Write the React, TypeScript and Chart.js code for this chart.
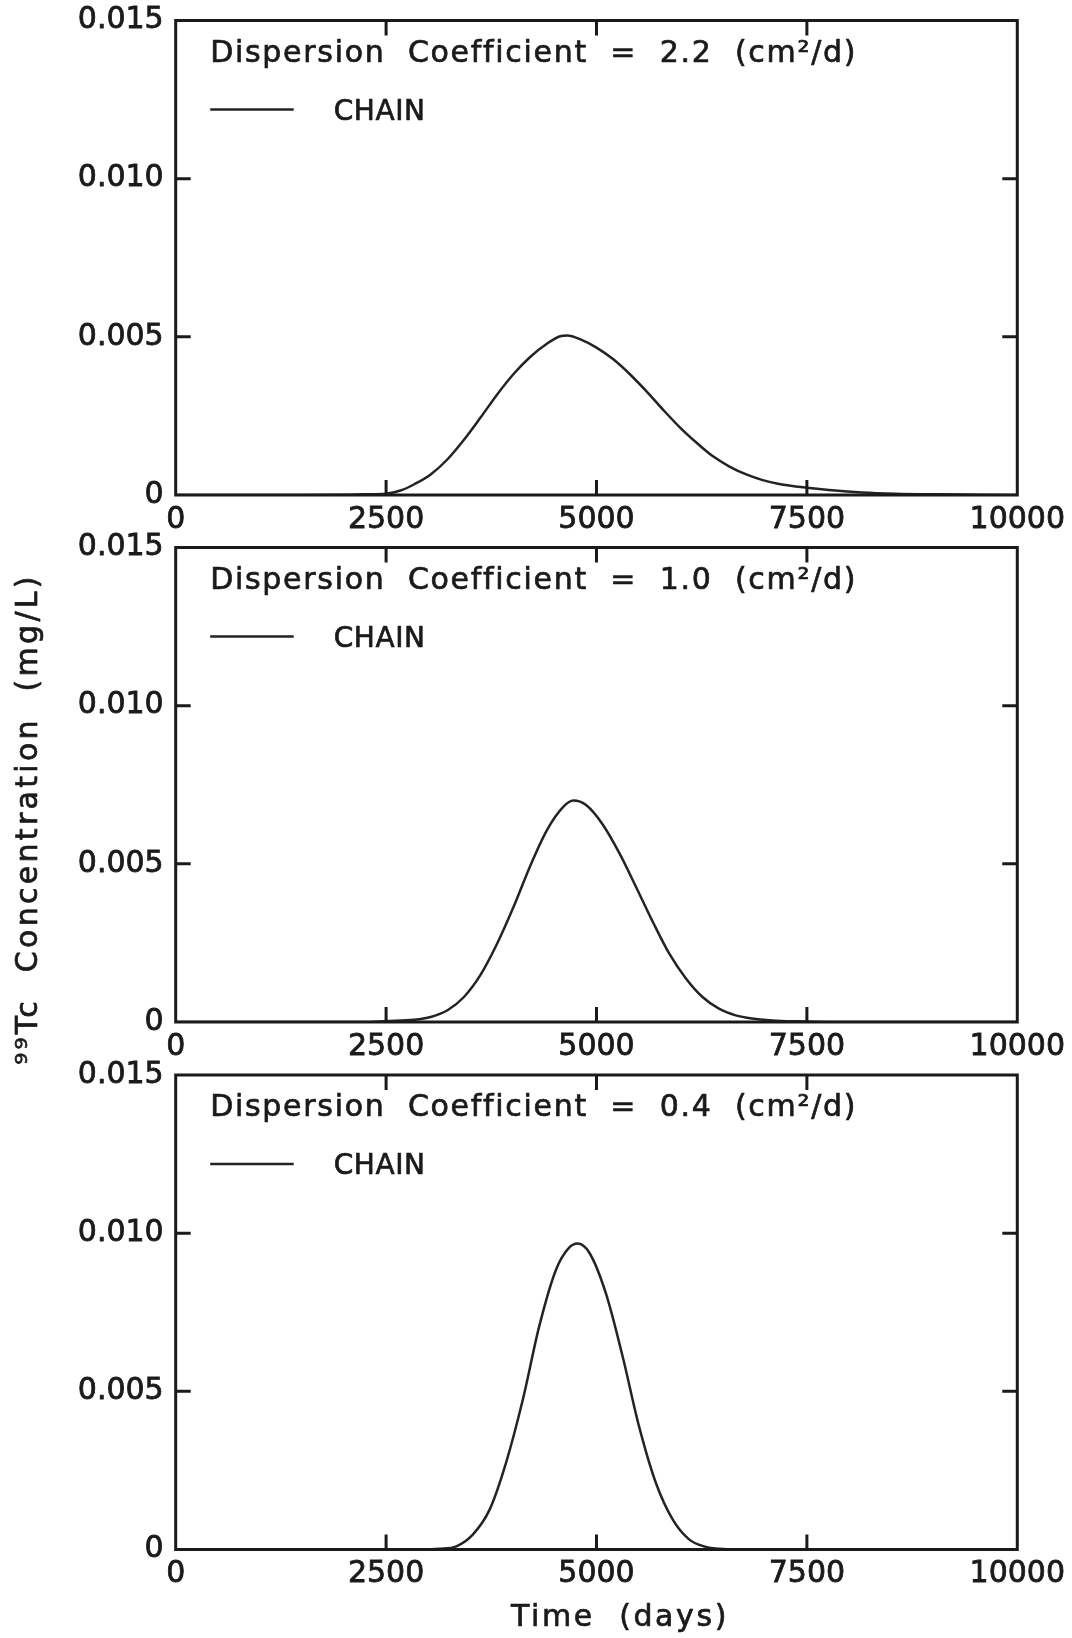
import React, { useEffect, useRef } from 'react';
import { Chart, registerables } from 'chart.js';

Chart.register(...registerables);

// ---------- data ----------
const xTicks = [0, 2500, 5000, 7500, 10000];
const yTicks = [0, 0.005, 0.01, 0.015];
const yTickLabels = ['0', '0.005', '0.010', '0.015'];
const xTickLabels = ['0', '2500', '5000', '7500', '10000'];
const dispersionValues = ['2.2', '1.0', '0.4'];
const seriesName = 'CHAIN';
const xTitle = 'Time  (days)';
const yTitle = '\u2079\u2079Tc  Concentration  (mg/L)';

// D = 2.2 cm2/d
const timeA = [0, 1500, 2000, 2250, 2500, 2680, 2835, 3030, 3230, 3430, 3620, 3820, 4020, 4215, 4410, 4570, 4650, 4810, 5000, 5200, 5400, 5600, 5790, 5990, 6190, 6380, 6580, 6780, 6975, 7170, 7500, 7760, 8160, 8550, 9000, 9500, 10000];
const concA = [0, 0, 0.000005, 0.00002, 0.00004, 0.00015, 0.00034, 0.00065, 0.00113, 0.00176, 0.00244, 0.00318, 0.00384, 0.00437, 0.00478, 0.00502, 0.00504, 0.00492, 0.00466, 0.00429, 0.00381, 0.00326, 0.0027, 0.00214, 0.00165, 0.00123, 0.0009, 0.00065, 0.00047, 0.00035, 0.00023, 0.00016, 0.00008, 0.00004, 0.00002, 0.00001, 0];

// D = 1.0 cm2/d
const timeB = [0, 2250, 2500, 2835, 3030, 3230, 3425, 3620, 3820, 4015, 4215, 4410, 4605, 4725, 4880, 5080, 5275, 5470, 5670, 5865, 6065, 6260, 6455, 6655, 6850, 7090, 7360, 7750, 10000];
const concB = [0, 0, 0.00003, 0.00007, 0.00016, 0.00037, 0.00079, 0.00148, 0.00248, 0.00364, 0.00495, 0.00606, 0.0068, 0.007, 0.00685, 0.00622, 0.00532, 0.00427, 0.00316, 0.00216, 0.00137, 0.00079, 0.00042, 0.00021, 0.00011, 0.00005, 0.00002, 0, 0];

// D = 0.4 cm2/d
const timeC = [0, 2900, 3135, 3335, 3530, 3730, 3925, 4125, 4320, 4520, 4675, 4775, 4915, 5110, 5310, 5505, 5705, 5905, 6100, 6300, 6455, 6700, 10000];
const concC = [0, 0, 0.00002, 0.0001, 0.00047, 0.00126, 0.00274, 0.00474, 0.00706, 0.00885, 0.00954, 0.00967, 0.00938, 0.00811, 0.00611, 0.0039, 0.00211, 0.00095, 0.00032, 0.00008, 0.00002, 0, 0];

const seriesTimes = [timeA, timeB, timeC];
const seriesConcs = [concA, concB, concC];

// ---------- layout / style ----------
const FONT = "'DejaVu Sans', 'Liberation Sans', Arial, sans-serif";
const TEXT = '#1a1a1a';
const FRAME = '#1a1a1a';
const LINE = '#262223';
const PAGE_W = 1072;
const PAGE_H = 1638;
const PLOT_LEFT = 175.7;
const PLOT_RIGHT = 1018.7;
const PLOT_TOPS = [20.5, 547.5, 1075];
const PLOT_H = 474.5;
const Y_W = 130;
const X_H = 60;

function drawText(ctx: any, text: string, x: number, y: number, spacing: string, stroke: number) {
  ctx.letterSpacing = spacing;
  if (stroke > 0) {
    ctx.lineWidth = stroke;
    ctx.strokeStyle = TEXT;
    ctx.lineJoin = 'round';
    ctx.strokeText(text, x, y);
  }
  ctx.fillText(text, x, y);
}

function Panel({ index }: { index: number }) {
  const ref = useRef<HTMLCanvasElement | null>(null);
  const T = PLOT_TOPS[index];
  const canvasTop = Math.floor(T - 30);
  const padTop = T - canvasTop;
  const canvasH = index === 2 ? PAGE_H - canvasTop : Math.ceil(padTop + PLOT_H + X_H) + (index === 1 ? 30 : 0);
  const padBottom = canvasH - padTop - PLOT_H - X_H;

  useEffect(() => {
    const canvas = ref.current;
    if (!canvas) return;
    const times = seriesTimes[index];
    const concs = seriesConcs[index];
    const data = times.map((t, i) => ({ x: t, y: concs[i] }));

    const framePlugin = {
      id: 'framePlugin' + index,
      afterDatasetsDraw(chart: any) {
        const { ctx, chartArea: a, scales } = chart;
        ctx.save();
        ctx.strokeStyle = FRAME;
        ctx.lineWidth = 3;
        ctx.strokeRect(a.left, a.top, a.right - a.left, a.bottom - a.top);
        const L = 15;
        ctx.beginPath();
        for (const v of xTicks.slice(1, -1)) {
          const px = scales.x.getPixelForValue(v);
          ctx.moveTo(px, a.bottom);
          ctx.lineTo(px, a.bottom - L);
          ctx.moveTo(px, a.top);
          ctx.lineTo(px, a.top + L);
        }
        for (const v of yTicks.slice(1, -1)) {
          const py = scales.y.getPixelForValue(v);
          ctx.moveTo(a.left, py);
          ctx.lineTo(a.left + L, py);
          ctx.moveTo(a.right, py);
          ctx.lineTo(a.right - L, py);
        }
        ctx.stroke();

        // annotation
        ctx.fillStyle = TEXT;
        ctx.textAlign = 'left';
        ctx.textBaseline = 'alphabetic';
        ctx.font = `30px ${FONT}`;
        drawText(ctx, `Dispersion  Coefficient  =  ${dispersionValues[index]}  (cm\u00b2/d)`, a.left + 34.5, a.top + 41, '1.7px', 0.7);

        // legend
        ctx.strokeStyle = LINE;
        ctx.lineWidth = 2.5;
        ctx.beginPath();
        ctx.moveTo(a.left + 34.5, a.top + 89);
        ctx.lineTo(a.left + 118, a.top + 89);
        ctx.stroke();
        ctx.font = `28px ${FONT}`;
        drawText(ctx, seriesName, a.left + 158, a.top + 99, '0.6px', 0.7);

        if (index === 1) {
          ctx.save();
          ctx.font = `30px ${FONT}`;
          ctx.textAlign = 'center';
          ctx.translate(37, 819 - canvasTop);
          ctx.rotate(-Math.PI / 2);
          drawText(ctx, yTitle, 0, 0, '3.3px', 0.7);
          ctx.restore();
        }
        if (index === 2) {
          ctx.font = `30px ${FONT}`;
          ctx.textAlign = 'center';
          drawText(ctx, xTitle, 620, 1626 - canvasTop, '2.6px', 0.7);
        }
        ctx.restore();
      },
    };

    const chart = new Chart(canvas, {
      type: 'line',
      data: {
        datasets: [
          {
            label: seriesName,
            data,
            borderColor: LINE,
            borderWidth: 2.5,
            pointRadius: 0,
            fill: false,
            cubicInterpolationMode: 'monotone',
          },
        ],
      },
      options: {
        responsive: false,
        animation: false,
        devicePixelRatio: 1,
        layout: {
          padding: {
            left: PLOT_LEFT - Y_W,
            right: PAGE_W - PLOT_RIGHT,
            top: padTop,
            bottom: padBottom,
          },
        },
        plugins: {
          legend: { display: false },
          tooltip: { enabled: false },
          title: { display: false },
        },
        scales: {
          x: {
            type: 'linear',
            min: 0,
            max: 10000,
            grid: { display: false, drawTicks: false },
            border: { display: false },
            afterBuildTicks: (scale: any) => {
              scale.ticks = xTicks.map((v) => ({ value: v }));
            },
            afterFit: (scale: any) => {
              scale.height = X_H;
            },
            ticks: {
              color: TEXT,
              font: { family: FONT, size: 30 },
              textStrokeColor: TEXT,
              textStrokeWidth: 0.8,
              padding: 7,
              maxRotation: 0,
              autoSkip: false,
              callback: (v: any) => xTickLabels[xTicks.indexOf(Number(v))] ?? String(v),
            },
          },
          y: {
            type: 'linear',
            min: 0,
            max: 0.015,
            grid: { display: false, drawTicks: false },
            border: { display: false },
            afterBuildTicks: (scale: any) => {
              scale.ticks = yTicks.map((v) => ({ value: v }));
            },
            afterFit: (scale: any) => {
              scale.width = Y_W;
            },
            ticks: {
              color: TEXT,
              font: { family: FONT, size: 30 },
              textStrokeColor: TEXT,
              textStrokeWidth: 0.8,
              padding: 12,
              autoSkip: false,
              callback: (v: any) => {
                const idx = yTicks.findIndex((t) => Math.abs(t - Number(v)) < 1e-9);
                return idx >= 0 ? yTickLabels[idx] : String(v);
              },
            },
          },
        },
      },
      plugins: [framePlugin],
    } as any);

    return () => chart.destroy();
  }, [index, canvasTop, padTop, padBottom]);

  return (
    <canvas
      ref={ref}
      width={PAGE_W}
      height={canvasH}
      style={{ position: 'absolute', left: 0, top: canvasTop, width: PAGE_W, height: canvasH }}
    />
  );
}

export default function App() {
  return (
    <div style={{ position: 'absolute', left: 0, top: 0, width: PAGE_W, height: PAGE_H, background: '#fff', overflow: 'hidden' }}>
      <Panel index={0} />
      <Panel index={1} />
      <Panel index={2} />
    </div>
  );
}
